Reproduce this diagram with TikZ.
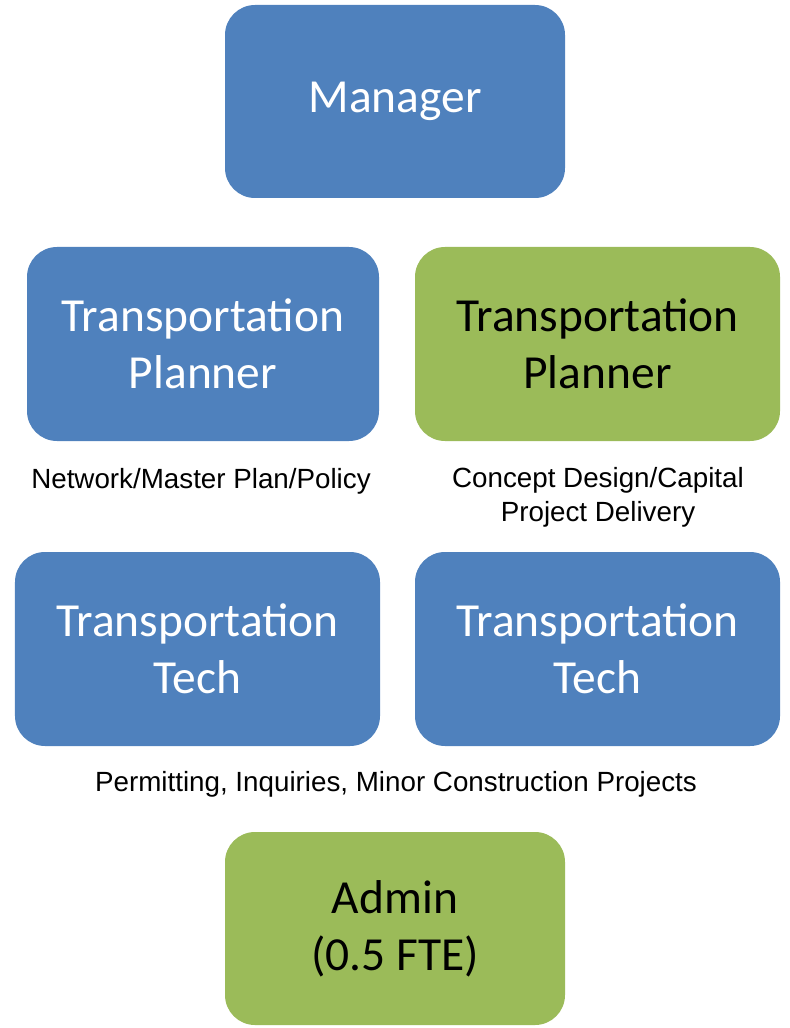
\documentclass[tikz,border=0pt]{standalone}
\usepackage{fontspec}
\setmainfont{Carlito}
\newfontfamily\notefont{Liberation Sans}
\usepackage{xcolor}
\definecolor{boxblue}{HTML}{4F81BD}
\definecolor{boxgreen}{HTML}{9BBB59}
\tikzset{
  box/.style={rounded corners=0.6cm, inner sep=0pt, align=center,
    font=\fontsize{27}{32.4}\selectfont},
  bluebox/.style={box, fill=boxblue, text=white},
  greenbox/.style={box, fill=boxgreen, text=black},
  note/.style={align=center, font=\notefont\fontsize{15.8}{19.3}\selectfont}
}

\begin{document}
\begin{tikzpicture}
\useasboundingbox (0,0) rectangle (15.8,-20.56);
% top and bottom boxes
\node[bluebox, minimum width=6.8cm, minimum height=3.86cm] (manager) at (7.9,-2.03) {Manager};
\node[greenbox, minimum width=6.8cm, minimum height=3.86cm] (admin) at (7.9,-18.57) {Admin\\(0.5 FTE)};
% planners
\node[bluebox, minimum width=7.04cm, minimum height=3.88cm] (plannera) at (4.06,-6.88) {Transportation\\Planner};
\node[greenbox, minimum width=7.3cm, minimum height=3.88cm] (plannerb) at (11.95,-6.88) {Transportation\\Planner};
% techs
\node[bluebox, minimum width=7.3cm, minimum height=3.88cm] (techa) at (3.95,-12.98) {Transportation\\Tech};
\node[bluebox, minimum width=7.3cm, minimum height=3.88cm] (techb) at (11.95,-12.98) {Transportation\\Tech};
% notes under the boxes
\node[note] (notea) at (4.02,-9.62) {Network/Master Plan/Policy};
\node[note] (noteb) at (11.96,-9.94) {Concept Design/Capital\\Project Delivery};
\node[note] (notetech) at (7.92,-15.68) {Permitting, Inquiries, Minor Construction Projects};
\end{tikzpicture}
\end{document}
